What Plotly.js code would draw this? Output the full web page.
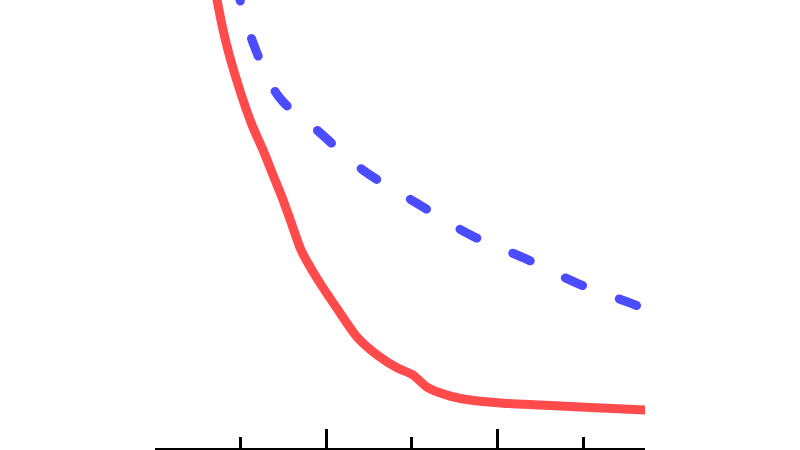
<!DOCTYPE html>
<html>
<head>
<meta charset="utf-8">
<script src="https://cdn.plot.ly/plotly-3.0.1.min.js"></script>
<style>
  html, body { margin: 0; padding: 0; background: #fff; }
  #chart { width: 800px; height: 450px; }
  .js-line { stroke-linecap: round; stroke-linejoin: round; }
</style>
</head>
<body>
<div id="chart"></div>
<script>
// values (x in axis units, y in 0-100 of the visible height)
var redX = [0.724, 0.782, 0.852, 0.934, 1.027, 1.132, 1.261, 1.378, 1.494, 1.599, 1.704, 1.903, 2.137,
            2.358, 2.592, 2.825, 3.012, 3.175, 3.409, 3.677, 4.063, 4.495, 4.961, 5.72];
var redY = [100, 94.4, 88.8, 83.3, 77.7, 72.1, 66.5, 60.9, 55.4, 49.8, 44.2, 37.5, 30.8,
            24.8, 20.8, 17.9, 16.3, 13.6, 11.8, 10.7, 10.0, 9.6, 9.15, 8.5];

var blueX = [0.929, 0.992, 1.167, 1.448, 1.903, 2.428, 3.035, 3.689, 4.331, 4.950, 5.545, 5.72];
var blueY = [103.8, 100, 89.3, 78.35, 70.76, 62.05, 54.9, 47.5, 42.2, 36.6, 32.4, 31.0];

var majorTicks = [2, 4];
var minorTicks = [1, 3, 5];

var red = {
  x: redX,
  y: redY,
  mode: 'lines',
  type: 'scatter',
  line: { color: 'rgb(255,75,75)', width: 9, shape: 'spline', smoothing: 0.6 },
  hoverinfo: 'skip'
};

var blue = {
  x: blueX,
  y: blueY,
  mode: 'lines',
  type: 'scatter',
  line: { color: 'rgb(75,75,255)', width: 9, dash: '19px,39px', shape: 'spline' },
  hoverinfo: 'skip'
};

var layout = {
  width: 800,
  height: 450,
  margin: { l: 155, r: 155, t: 0, b: 2 },
  paper_bgcolor: '#fff',
  plot_bgcolor: '#fff',
  showlegend: false,
  xaxis: {
    range: [0, 5.72],
    showgrid: false,
    zeroline: false,
    showline: true,
    linecolor: '#000',
    linewidth: 4,
    ticks: 'inside',
    tickmode: 'array',
    tickvals: majorTicks,
    ticklen: 19,
    tickwidth: 3,
    tickcolor: '#000',
    showticklabels: false,
    minor: {
      tickmode: 'array',
      tickvals: minorTicks,
      ticks: 'inside',
      ticklen: 11,
      tickwidth: 3,
      tickcolor: '#000',
      showgrid: false
    }
  },
  yaxis: {
    range: [0, 100],
    visible: false,
    showgrid: false,
    zeroline: false
  }
};

Plotly.newPlot('chart', [red, blue], layout, { staticPlot: true, displayModeBar: false });
</script>
</body>
</html>
